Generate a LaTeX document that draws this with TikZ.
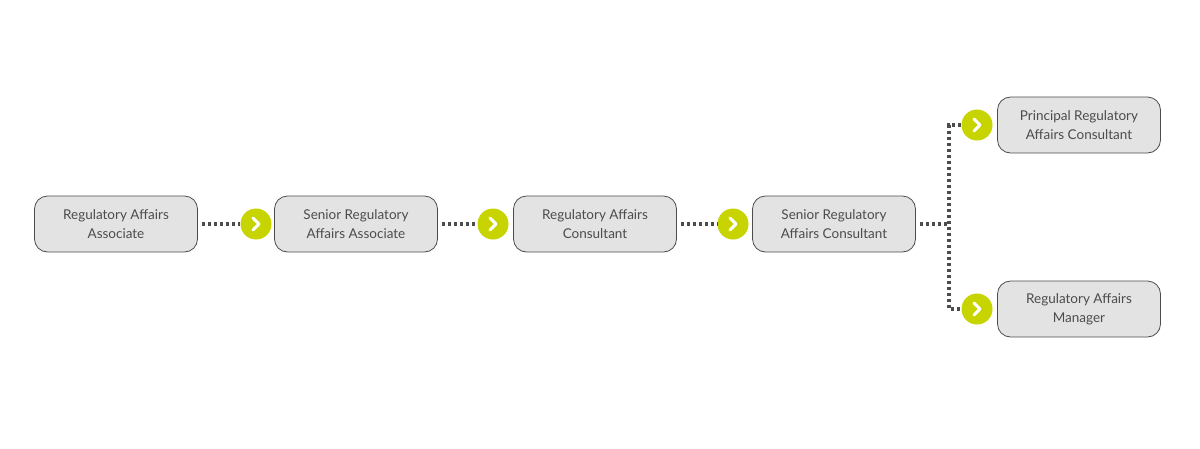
\documentclass[tikz,border=0pt]{standalone}
\usepackage{fontspec}
\setmainfont{Lato}
\begin{document}
\begin{tikzpicture}[x=1pt,y=-1pt,
  box/.style={draw=black!70,line width=0.8pt,fill=gray!22,rounded corners=13pt,minimum width=163pt,minimum height=56pt,align=center,font=\fontsize{13.5}{19}\selectfont,text=black!70},
  bullet/.style={circle,fill={rgb,255:red,200;green,212;blue,0},minimum size=31pt,inner sep=0pt},
  conn/.style={draw=black!70,line width=3.5pt,dash pattern=on 3.5pt off 2.5pt},
  chev/.style={draw=white,line width=3pt,line cap=round,line join=round}]
\useasboundingbox (0,0) rectangle (1200,448);
\node[box] (b1) at (116,224) {Regulatory Affairs\\Associate};
\node[box] (b2) at (356,224) {Senior Regulatory\\Affairs Associate};
\node[box] (b3) at (595,224) {Regulatory Affairs\\Consultant};
\node[box] (b4) at (834,224) {Senior Regulatory\\Affairs Consultant};
\node[box] (b5) at (1079,125) {Principal Regulatory\\Affairs Consultant};
\node[box] (b6) at (1079,309) {Regulatory Affairs\\Manager};
\node[bullet] (c1) at (256,224) {};
\node[bullet] (c2) at (493,224) {};
\node[bullet] (c3) at (733,224) {};
\node[bullet] (c4) at (977,125) {};
\node[bullet] (c5) at (977,309) {};
\foreach \c in {c1,c2,c3,c4,c5}
  \draw[chev] ([xshift=-3pt,yshift=6pt]\c.center) -- ([xshift=3pt]\c.center) -- ([xshift=-3pt,yshift=-6pt]\c.center);
\draw[conn] (b1.east) ++(4,0) -- (c1.west);
\draw[conn] (b2.east) ++(4,0) -- (c2.west);
\draw[conn] (b3.east) ++(4,0) -- (c3.west);
\coordinate (j) at (949,224);
\draw[conn] (b4.east) ++(4,0) -- (j);
\draw[conn] (c4.west) -- (c4.west -| j) -- (c5.west -| j) -- (c5.west);
\end{tikzpicture}
\end{document}
